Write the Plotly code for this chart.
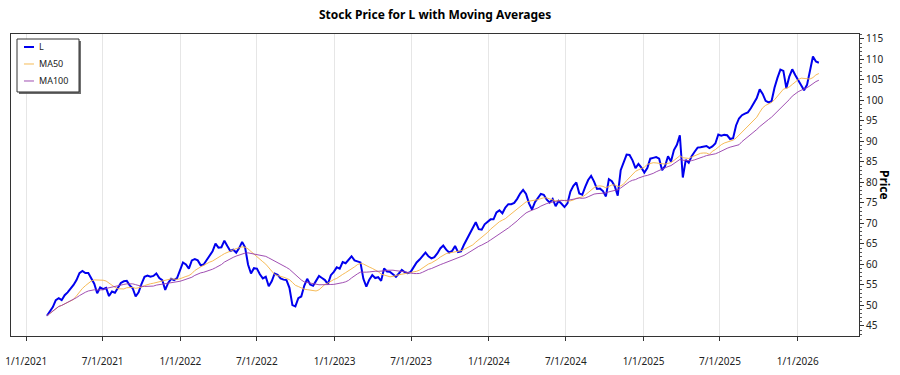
import pandas as pd
import plotly.graph_objects as go

# Weekly closing prices for L
start_date = "2021-02-19"
end_date = "2026-02-20"
price_values = [
    47.5, 48.6, 49.6, 51.3, 51.8, 51.3, 52.5, 53.2, 54.0, 55.0,
    56.2, 57.9, 58.4, 57.9, 57.9, 56.6, 55.3, 53.0, 54.4, 54.0,
    54.3, 52.3, 53.4, 53.1, 54.4, 55.5, 55.9, 56.0, 54.9, 54.2,
    52.2, 53.2, 55.3, 57.0, 57.3, 57.0, 57.2, 57.8, 56.7, 56.2,
    53.8, 55.5, 56.5, 56.2, 56.7, 58.6, 60.5, 60.0, 59.0, 61.0,
    61.3, 61.0, 59.8, 60.0, 61.0, 62.1, 63.2, 65.1, 64.1, 64.2,
    65.8, 64.5, 63.3, 63.6, 62.9, 64.0, 65.5, 64.2, 60.0, 57.8,
    59.1, 59.0, 57.6, 56.6, 57.0, 54.7, 55.9, 57.8, 57.5, 56.6,
    56.3, 56.2, 54.3, 50.1, 49.8, 51.8, 52.2, 54.8, 56.5, 55.1,
    54.8, 56.0, 57.2, 56.7, 56.2, 55.2, 57.4, 58.2, 59.3, 59.0,
    60.6, 60.3, 61.2, 62.0, 61.0, 60.7, 60.5, 56.5, 54.6, 56.3,
    57.4, 56.7, 56.9, 56.0, 59.0, 58.3, 58.2, 57.6, 57.0, 57.8,
    58.7, 58.1, 57.9, 58.2, 59.4, 60.5, 61.2, 62.2, 62.9, 62.0,
    61.5, 61.8, 62.7, 63.9, 64.6, 63.6, 62.9, 63.3, 64.5, 63.0,
    63.2, 64.8, 66.2, 67.6, 68.7, 70.3, 68.6, 68.5, 69.8, 70.5,
    71.0, 71.0, 72.7, 73.2, 72.5, 73.9, 74.7, 74.7, 75.0, 76.0,
    77.3, 78.2, 77.2, 74.9, 73.4, 75.2, 76.2, 77.2, 77.0, 75.8,
    75.1, 76.0, 74.2, 75.5, 74.8, 74.0, 74.9, 77.8, 79.2, 80.0,
    77.3, 77.0, 78.9, 80.6, 81.6, 80.2, 78.4, 78.5, 77.9, 76.6,
    80.8, 80.3, 79.1, 76.8, 83.0, 84.7, 86.8, 86.7, 85.4, 83.5,
    84.5, 83.6, 82.4, 83.5, 85.8, 86.0, 86.2, 85.8, 83.0, 84.0,
    86.4, 85.1, 87.9, 89.2, 91.5, 81.2, 85.5, 84.8, 86.4, 87.5,
    88.5, 88.6, 88.7, 88.9, 88.4, 88.8, 89.5, 91.7, 91.4, 91.6,
    91.5, 90.6, 90.8, 93.9, 95.6, 96.4, 96.8, 97.1, 98.1, 99.2,
    100.6, 102.7, 101.6, 99.9, 99.5, 99.8, 103.1, 105.5, 107.5, 107.2,
    103.0, 105.8, 107.6, 106.2, 104.9, 103.6, 102.5, 103.8, 107.6, 110.7,
    109.5, 109.2,
]
x_tick_start = "2021-01-01"
y_ticks = [45, 50, 55, 60, 65, 70, 75, 80, 85, 90, 95, 100, 105, 110, 115]
series_names = ["L", "MA50", "MA100"]
series_colors = ["#0000ee", "rgba(245,180,70,0.9)", "rgba(150,60,170,0.9)"]
series_widths = [2, 1, 1]

dates = pd.date_range(start_date, end_date, freq="W-FRI")
price = pd.Series(price_values, index=dates)
ma50 = price.rolling("70D", min_periods=1).mean()    # ~50 trading days
ma100 = price.rolling("140D", min_periods=1).mean()  # ~100 trading days

FONT = "Noto Sans"
fig = go.Figure()
for name, ys, col, w in zip(series_names, [price, ma50, ma100], series_colors, series_widths):
    fig.add_trace(go.Scatter(x=dates, y=ys.values, name=name, mode="lines",
                             line=dict(color=col, width=w), showlegend=False))

# Hand-drawn legend box with shadow (top-left, inside plot)
shapes = [
    dict(type="rect", xref="paper", yref="paper", x0=0.0094, x1=0.0825,
         y0=0.8013, y1=0.9768, fillcolor="rgba(80,80,80,0.85)",
         line=dict(width=0), layer="above"),
    dict(type="rect", xref="paper", yref="paper", x0=0.00708, x1=0.0802,
         y0=0.808, y1=0.9834, fillcolor="white",
         line=dict(color="#333", width=1), layer="above"),
]
row_y = [0.957, 0.9007, 0.8444]
for ry, col, w, name in zip(row_y, series_colors, series_widths, series_names):
    shapes.append(dict(type="line", xref="paper", yref="paper",
                       x0=0.0153, x1=0.0271, y0=ry, y1=ry,
                       line=dict(color=col, width=w), layer="above"))
    fig.add_annotation(text=name, xref="paper", yref="paper", x=0.0307, y=ry,
                       xanchor="left", yanchor="middle", showarrow=False,
                       font=dict(family=FONT, size=9, color="#222"))

fig.update_layout(
    width=900, height=375,
    margin=dict(l=11, r=41, t=34, b=39),
    paper_bgcolor="white", plot_bgcolor="white",
    font=dict(family=FONT, size=10, color="#222"),
    title=dict(text="<b>Stock Price for L with Moving Averages</b>",
               x=0.4835, xanchor="center", y=0.96, yanchor="middle",
               font=dict(family=FONT, size=12, color="black")),
    showlegend=False,
    shapes=shapes,
    xaxis=dict(range=["2020-11-26", "2026-05-26"], type="date", automargin=False,
               tick0=x_tick_start, dtick="M6", tickformat="%-m/%-d/%Y",
               showgrid=True, gridcolor="#e6e6e6", gridwidth=1,
               showline=True, linecolor="#333", linewidth=1, mirror=True,
               ticks="outside", ticklen=4, tickcolor="#333",
               ticklabelstandoff=12, zeroline=False,
               tickfont=dict(family=FONT, size=10, color="#222")),
    yaxis=dict(range=[42.56, 116.2], side="right", tickvals=y_ticks, automargin=False,
               showgrid=False, zeroline=False,
               showline=True, linecolor="#333", linewidth=1, mirror=True,
               ticks="outside", ticklen=4, tickcolor="#333",
               minor=dict(dtick=1, ticks="outside", ticklen=2, tickcolor="#555"),
               tickfont=dict(family=FONT, size=10, color="#222")),
)
fig.add_annotation(text="<b>Price</b>", xref="paper", yref="paper",
                   x=1.0307, y=0.5, xanchor="center", yanchor="middle",
                   showarrow=False, textangle=90,
                   font=dict(family=FONT, size=12, color="black"))

fig.write_html("out.html", config={"displayModeBar": False},
               post_script="document.body.style.margin='0';document.body.style.overflow='hidden';")
